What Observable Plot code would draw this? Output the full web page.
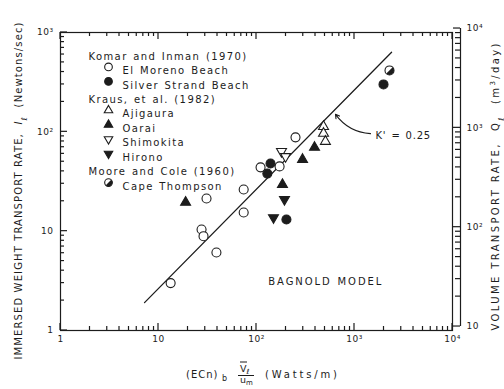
<!DOCTYPE html>
<html><head><meta charset="utf-8">
<script src="https://cdn.jsdelivr.net/npm/d3@7"></script>
<script src="https://cdn.jsdelivr.net/npm/@observablehq/plot@0.6"></script>
<style>
html,body{margin:0;padding:0;background:#fff;}
#chart{width:504px;height:389px;}
</style></head><body><div id="chart"></div>
<script>
// ---- data ----
const elMorenoP = [13.3, 27.5, 28.8, 30.9, 39, 74, 74, 110, 172, 250];
const elMorenoI = [3.0, 10.4, 8.9, 21.3, 6.1, 26.3, 15.4, 43.9, 44.9, 88];
const silverP = [129, 139, 202, 1977];
const silverI = [38, 48, 13.1, 300];
const ajigauraP = [483, 483, 505];
const ajigauraI = [113, 96.4, 80];
const oaraiP = [18.9, 184, 295, 391];
const oaraiI = [19.5, 29.5, 52.7, 69.7];
const shimokitaP = [180, 198];
const shimokitaI = [63.5, 56.5];
const hironoP = [149, 193];
const hironoI = [13.7, 20.9];
const capeP = [2276];
const capeI = [415];
const bagnoldP = [7.2, 2390];
const bagnoldI = [1.91, 633];
const kLabel = ["K' = 0.25"];
const kLabelP = [1638], kLabelI = [92];
const kArrowFrom = [1457, 96], kArrowTo = [640, 150];
const modelLabel = ["BAGNOLD MODEL"];
const modelP = [132], modelI = [3.1];
const qPerI = 9.12; // right-axis conversion (m3/day per N/s)

const xMajor = [1, 10, 100, 1000, 10000];
const xMajorLabels = ["1", "10", "10²", "10³", "10⁴"];
const yMajor = [1, 10, 100, 1000];
const yMajorLabels = ["1", "10", "10²", "10³"];
const qMajor = [10, 100, 1000, 10000];
const qMajorLabels = ["10", "10²", "10³", "10⁴"];

const legendGroups = ["Komar and Inman (1970)", "Kraus, et al. (1982)", "Moore and Cole (1960)"];
const legendNames = ["El Moreno Beach", "Silver Strand Beach", "Ajigaura", "Oarai", "Shimokita", "Hirono", "Cape Thompson"];
const legendLayout = [[0, [0, 1]], [1, [2, 3, 4, 5]], [2, [6]]];

// ---- styles ----
const ink = "#1c1c1c";
const halfDisc = {draw(ctx, size) { const r = Math.sqrt(size / Math.PI); ctx.moveTo(0, -r); ctx.arc(0, 0, r, -Math.PI / 2, Math.PI / 2); ctx.closePath(); }};
const seriesStyle = [
  {symbol: "circle", fill: "white", r: 4.5},
  {symbol: "circle", fill: ink, r: 4.5},
  {symbol: "triangle", fill: "white", r: 3.7},
  {symbol: "triangle", fill: ink, r: 3.7},
  {symbol: "triangle", fill: "white", r: 3.7, rotate: 180},
  {symbol: "triangle", fill: ink, r: 3.7, rotate: 180},
  {symbol: "circle", fill: "white", r: 4.5, half: true}
];
const seriesP = [elMorenoP, silverP, ajigauraP, oaraiP, shimokitaP, hironoP, capeP];
const seriesI = [elMorenoI, silverI, ajigauraI, oaraiI, shimokitaI, hironoI, capeI];

const minors = (lo, hi) => { const out = []; for (let e = lo; e < hi; e++) for (let d = 2; d <= 9; d++) out.push(d * 10 ** e); return out; };

const pointMarks = [];
seriesP.forEach((ps, k) => {
  const st = seriesStyle[k];
  const rows = ps.map((p, i) => ({P: p, I: seriesI[k][i]}));
  pointMarks.push(Plot.dot(rows, {x: "P", y: "I", symbol: st.symbol, r: st.r, fill: st.fill, stroke: ink, strokeWidth: 1.1, rotate: st.rotate || 0}));
  if (st.half) pointMarks.push(Plot.dot(rows, {x: "P", y: "I", symbol: halfDisc, r: st.r, fill: ink, rotate: 45}));
});

// legend
const legendMarks = [];
let row = 0;
const rowY = i => 20 + i * 14.45;
legendLayout.forEach(([g, items]) => {
  legendMarks.push(Plot.text([legendGroups[g]], {text: d => d, frameAnchor: "top-left", dx: 28, dy: rowY(row), textAnchor: "start", fontSize: 10, fill: ink}));
  row++;
  items.forEach(k => {
    const st = seriesStyle[k];
    legendMarks.push(Plot.dot([0], {frameAnchor: "top-left", dx: 48, dy: rowY(row), symbol: st.symbol, r: st.r * 0.85, fill: st.fill, stroke: ink, strokeWidth: 1.1, rotate: st.rotate || 0}));
    if (st.half) legendMarks.push(Plot.dot([0], {frameAnchor: "top-left", dx: 48, dy: rowY(row), symbol: halfDisc, r: st.r * 0.85, fill: ink, rotate: 45}));
    legendMarks.push(Plot.text([legendNames[k]], {text: d => d, frameAnchor: "top-left", dx: 62, dy: rowY(row), textAnchor: "start", fontSize: 10, fill: ink}));
    row++;
  });
});

const qPos = qMajor.map(q => q / qPerI);
const qMinorPos = minors(1, 4).map(q => q / qPerI);
const rightOffset = 8;

const plot = Plot.plot({
  width: 504, height: 389,
  marginLeft: 60, marginRight: 52, marginTop: 32, marginBottom: 59,
  style: {fontFamily: "'DejaVu Sans', sans-serif", fontSize: "9px", color: ink, background: "white"},
  x: {type: "log", domain: [1, 1e4], axis: null},
  y: {type: "log", domain: [1, 1e3], axis: null},
  marks: [
    Plot.frame({stroke: ink, strokeWidth: 1.2}),
    Plot.axisX({ticks: xMajor, anchor: "bottom", tickSize: 0, tickPadding: 5, tickFormat: v => xMajorLabels[xMajor.indexOf(v)], label: null, fill: ink}),
    Plot.axisY({ticks: yMajor, anchor: "left", tickSize: 0, tickPadding: 7, tickFormat: v => yMajorLabels[yMajor.indexOf(v)], label: null, fill: ink}),
    // right (volume) axis
    Plot.ruleX([1e4], {y1: qPos[0], y2: qPos[qPos.length - 1], dx: rightOffset, stroke: ink, strokeWidth: 1.2}),
    Plot.axisY({ticks: qPos, anchor: "right", dx: rightOffset, tickSize: 0, tickPadding: 6, tickFormat: v => qMajorLabels[qPos.indexOf(v)], label: null, fill: ink}),
    // Bagnold line
    Plot.line(bagnoldP.map((p, i) => ({P: p, I: bagnoldI[i]})), {x: "P", y: "I", stroke: ink, strokeWidth: 1.3}),
    ...pointMarks,
    // annotations
    Plot.arrow([0], {x1: kArrowFrom[0], y1: kArrowFrom[1], x2: kArrowTo[0], y2: kArrowTo[1], bend: 25, stroke: ink, strokeWidth: 1.1, headLength: 6}),
    Plot.text(kLabel, {x: kLabelP, y: kLabelI, text: d => d, textAnchor: "start", fontSize: 10, fill: ink}),
    Plot.text(modelLabel, {x: modelP, y: modelI, text: d => d, textAnchor: "start", fontSize: 10, fill: ink}),
    ...legendMarks
  ]
});

document.getElementById("chart").appendChild(plot);
const svg = d3.select(plot);

// inward tick marks, positioned through Plot's own x / y scales
const sx = plot.scale("x"), sy = plot.scale("y");
const [fx0, fx1] = sx.range, [fy0, fy1] = sy.range; // fy0 = bottom, fy1 = top
const ticksG = svg.append("g").attr("stroke", ink).attr("stroke-width", 1.2).attr("fill", "none");
const addTick = (x1, y1, x2, y2) => ticksG.append("line").attr("x1", x1).attr("y1", y1).attr("x2", x2).attr("y2", y2);
xMajor.forEach(v => { const x = sx.apply(v); addTick(x, fy0, x, fy0 - 7); addTick(x, fy1, x, fy1 + 7); });
minors(0, 4).forEach(v => { const x = sx.apply(v); addTick(x, fy0, x, fy0 - 4); addTick(x, fy1, x, fy1 + 4); });
yMajor.forEach(v => { const y = sy.apply(v); addTick(fx0, y, fx0 + 7, y); });
minors(0, 3).forEach(v => { const y = sy.apply(v); addTick(fx0, y, fx0 + 4, y); });
const rx = fx1 + rightOffset;
qPos.forEach(v => { const y = sy.apply(v); addTick(rx, y, rx - 7, y); });
qMinorPos.forEach(v => { const y = sy.apply(v); addTick(rx, y, rx - 5, y); });

// letter spacing to mimic the hand-lettered original
svg.selectAll('g[aria-label="text"] text').each(function() {
  const t = this.textContent;
  let ls = 1.4;
  if (t === "BAGNOLD MODEL") ls = 1.9;
  else if (t === "K' = 0.25") ls = 0.8;
  d3.select(this).attr("letter-spacing", ls + "px").attr("word-spacing", "1px");
});
svg.selectAll('g[aria-label$="tick label"] text').attr("letter-spacing", "0.5px");

// axis titles
const tg = svg.append("g").attr("fill", ink).attr("font-family", "'DejaVu Sans', sans-serif").attr("font-size", 10).attr("text-anchor", "start");
const lt = tg.append("text").attr("transform", "translate(22,191) rotate(-90)").attr("text-anchor", "middle").attr("textLength", 337).attr("lengthAdjust", "spacing");
lt.append("tspan").text("IMMERSED WEIGHT TRANSPORT RATE,  ");
lt.append("tspan").attr("font-style", "italic").text("I");
lt.append("tspan").attr("font-style", "italic").attr("font-size", 8).attr("baseline-shift", "sub").text("ℓ");
lt.append("tspan").text("  (Newtons/sec)");

const rt = tg.append("text").attr("transform", "translate(499,187) rotate(-90)").attr("text-anchor", "middle").attr("textLength", 287).attr("lengthAdjust", "spacing");
rt.append("tspan").text("VOLUME TRANSPORT RATE,  Q");
rt.append("tspan").attr("font-size", 8).attr("baseline-shift", "sub").text("ℓ");
rt.append("tspan").text("  (m");
rt.append("tspan").attr("font-size", 7).attr("baseline-shift", "super").text("3");
rt.append("tspan").text("/day)");

// bottom title: (ECn)_b  V̄ℓ/um  (Watts/m)
tg.append("text").attr("x", 186).attr("y", 378).attr("letter-spacing", "1px").text("(ECn)");
tg.append("text").attr("x", 222).attr("y", 381).attr("font-size", 8).text("b");
const num = tg.append("text").attr("x", 240).attr("y", 372).attr("font-size", 9.5);
num.append("tspan").text("V");
num.append("tspan").attr("font-size", 7).attr("dy", 2).text("ℓ");
tg.append("line").attr("x1", 240).attr("x2", 247).attr("y1", 362).attr("y2", 362).attr("stroke", ink).attr("stroke-width", 1);
tg.append("line").attr("x1", 238).attr("x2", 254).attr("y1", 375.5).attr("y2", 375.5).attr("stroke", ink).attr("stroke-width", 1);
const den = tg.append("text").attr("x", 240).attr("y", 383).attr("font-size", 9.5);
den.append("tspan").text("u");
den.append("tspan").attr("font-size", 7).attr("dy", 1.5).text("m");
tg.append("text").attr("x", 265).attr("y", 378).attr("textLength", 72).attr("lengthAdjust", "spacing").text("(Watts/m)");
</script></body></html>
